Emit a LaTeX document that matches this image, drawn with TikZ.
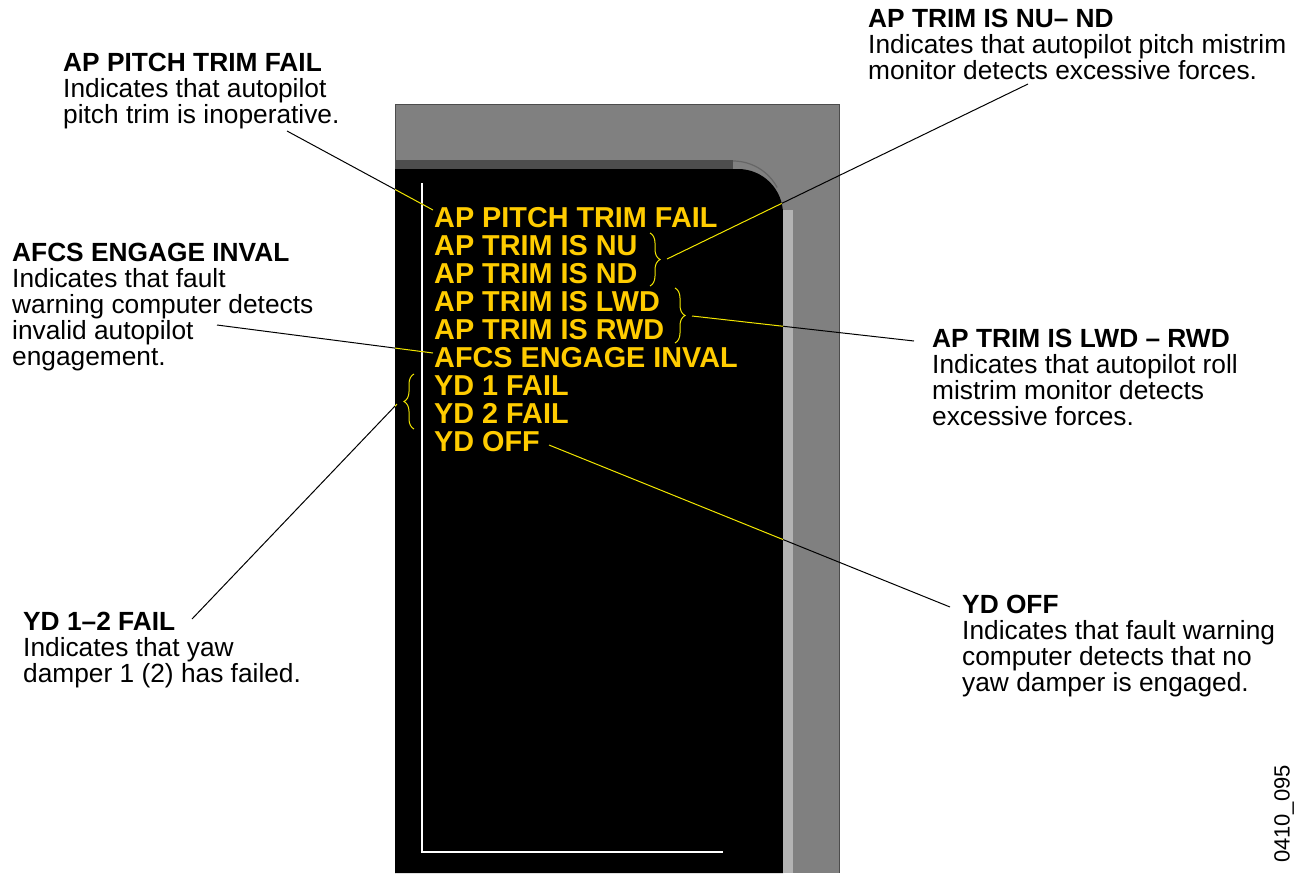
\documentclass[tikz,border=0pt]{standalone}
\usepackage{fontspec}
\setmainfont{Liberation Sans}
\usetikzlibrary{decorations.pathreplacing}
\definecolor{panelgray}{HTML}{808080}
\definecolor{stripdark}{HTML}{4D4D4D}
\definecolor{striplight}{HTML}{B3B3B3}
\definecolor{msgyellow}{HTML}{FFCC00}
\definecolor{leadyellow}{HTML}{F2E600}
\begin{document}
\begin{tikzpicture}[x=1pt,y=-1pt,
  lab/.style={anchor=base west, align=left, inner sep=0pt, font=\fontsize{26.3}{26}\selectfont},
  msg/.style={anchor=base west, align=left, inner sep=0pt, text=msgyellow, font=\bfseries\fontsize{28.8}{28}\selectfont},
  leader/.style={line width=1pt},
  bracey/.style={leadyellow, line width=1pt, decorate, decoration={brace, amplitude=10pt}}]
\useasboundingbox (0,0) rectangle (1305,873);
\fill[white] (0,0) rectangle (1305,873);
% panel
\fill[panelgray] (395,104) rectangle (839,873);
\draw[line width=1pt, black!70] (395,873) -- (395,104) -- (839,104) -- (839,873);
\fill[stripdark] (395,160) rectangle (733,169);
\draw[line width=1.2pt, black!60] (733,161) arc[start angle=270,end angle=332,radius=50];
\fill[black] (395,873) -- (395,169) -- (738,169) arc[start angle=270,end angle=360,radius=45] -- (783,873) -- cycle;
\fill[striplight] (783,210) rectangle (793,873);
\draw[white, line width=2pt] (422,183) -- (422,852) -- (723,852);
% messages (anchor = baseline of last line)
\node[msg] (msgs) at (434,451) {AP PITCH TRIM FAIL\\AP TRIM IS NU\\AP TRIM IS ND\\AP TRIM IS LWD\\AP TRIM IS RWD\\AFCS ENGAGE INVAL\\YD 1 FAIL\\YD 2 FAIL\\YD OFF};
% braces
\draw[bracey] (650,233) -- (650,286);
\draw[bracey] (675,288) -- (675,343);
\draw[bracey] (414,429) -- (414,374);
% labels (anchor = baseline of last line)
\node[lab] (pitch) at (63,123) {\textbf{AP PITCH TRIM FAIL}\\Indicates that autopilot\\pitch trim is inoperative.};
\node[lab] (afcs) at (12,365) {\textbf{AFCS ENGAGE INVAL}\\Indicates that fault\\warning computer detects\\invalid autopilot\\engagement.};
\node[lab] (nund) at (868,79) {\textbf{AP TRIM IS NU– ND}\\Indicates that autopilot pitch mistrim\\monitor detects excessive forces.};
\node[lab] (lwd) at (932,425) {\textbf{AP TRIM IS LWD – RWD}\\Indicates that autopilot roll\\mistrim monitor detects\\excessive forces.};
\node[lab] (yd12) at (23,682) {\textbf{YD 1–2 FAIL}\\Indicates that yaw\\damper 1 (2) has failed.};
\node[lab] (ydoff) at (962,691) {\textbf{YD OFF}\\Indicates that fault warning\\computer detects that no\\yaw damper is engaged.};
\node[rotate=90, inner sep=0pt, font=\fontsize{22}{22}\selectfont] (code) at (1284,814) {0410\_095};
% leader end points
\coordinate (p1) at (287,131); \coordinate (q1) at (433,210);
\coordinate (p2) at (1028,84); \coordinate (q2) at (667,259);
\coordinate (p3) at (914,341); \coordinate (q3) at (692,316);
\coordinate (p4) at (217,325); \coordinate (q4) at (433,353);
\coordinate (p5) at (192,619); \coordinate (q5) at (397,404);
\coordinate (p6) at (950,607); \coordinate (q6) at (549,445);
\foreach \i in {1,...,6} {\draw[leader, black] (p\i) -- (q\i);}
\begin{scope}
\clip (395,873) -- (395,169) -- (738,169) arc[start angle=270,end angle=360,radius=45] -- (783,873) -- cycle;
\foreach \i in {1,...,6} {\draw[leader, leadyellow] (p\i) -- (q\i);}
\end{scope}
\end{tikzpicture}
\end{document}
